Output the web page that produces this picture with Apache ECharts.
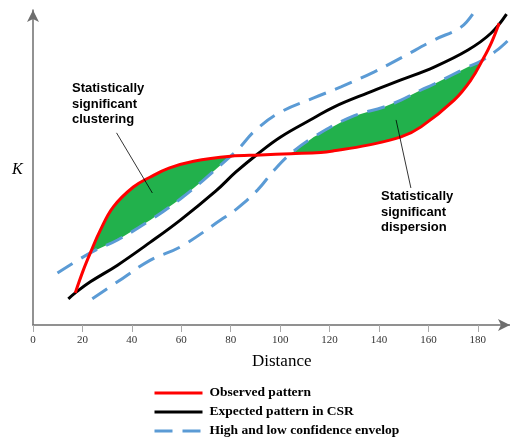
<!DOCTYPE html>
<html>
<head>
<meta charset="utf-8">
<script src="https://cdn.jsdelivr.net/npm/echarts@6/dist/echarts.min.js"></script>
<style>
  html, body { margin: 0; padding: 0; background: #fff; }
  #chart { width: 510px; height: 440px; }
</style>
</head>
<body>
<div id="chart"></div>
<script>
// tick labels on the distance axis
const xTicks = [0, 20, 40, 60, 80, 100, 120, 140, 160, 180];

// [distance, K] (K in arbitrary units 0..100)
const observed = [
  [17.1, 10.2], [20.4, 17.5], [23.2, 22.9], [27.3, 30.2], [32.5, 37.5], [40.6, 43.8],
  [47.5, 47.0], [55.0, 49.8], [65.0, 52.0], [80.0, 53.6], [92.0, 54.0], [104.3, 54.4],
  [116.4, 54.8], [121.7, 55.3], [135.5, 57.1], [148.9, 59.7], [157.0, 62.9],
  [170.4, 71.4], [177.2, 77.8], [181.8, 84.0], [185.4, 89.5], [188.6, 95.8]
];
const expected = [
  [14.3, 8.3], [17.1, 10.2], [23.2, 13.7], [34.2, 19.0], [47.5, 26.3], [59.6, 33.3],
  [73.9, 42.5], [82.0, 48.5], [90.9, 54.3], [100.2, 59.7], [113.6, 65.7], [121.7, 69.2],
  [135.5, 73.7], [148.9, 77.8], [162.3, 81.9], [176.0, 87.3], [185.4, 92.7], [191.6, 98.7]
];
const envHigh = [
  [9.9, 16.5], [23.2, 22.9], [34.2, 27.0], [47.5, 33.3], [59.6, 40.0], [69.0, 46.0],
  [80.0, 53.6], [82.8, 55.6], [90.1, 61.9], [100.2, 67.6], [113.6, 72.1], [124.6, 75.6],
  [137.9, 80.3], [148.9, 84.8], [162.3, 90.5], [173.2, 94.6], [178.5, 99.4]
];
const envLow = [
  [24.0, 8.3], [34.2, 13.7], [47.5, 20.6], [59.6, 24.8], [75.9, 33.3], [82.8, 37.1],
  [90.9, 42.9], [97.4, 49.0], [104.3, 54.4], [113.6, 59.7], [128.6, 66.0], [142.0, 69.2],
  [148.9, 71.4], [157.0, 74.6], [162.3, 76.5], [176.0, 81.9], [181.8, 84.0], [189.4, 88.3],
  [193.5, 91.4]
];

// where the observed curve leaves the envelope
const clusterRange = [23.2, 80.0];
const dispersionRange = [104.3, 181.8];

// leader lines of the two notes, [from, to] in data units
const leaders = [
  [[33.8, 61.0], [48.3, 41.9]],
  [[146.9, 65.1], [152.9, 43.5]]
];

const GREEN = '#22b14c';
const BLUE = '#5b9bd5';

function region(top, bottom, range) {
  const inside = p => p[0] >= range[0] - 1e-6 && p[0] <= range[1] + 1e-6;
  return top.filter(inside).concat(bottom.filter(inside).reverse());
}
const clusterArea = region(observed, envHigh, clusterRange);
const dispersionArea = region(envLow, observed, dispersionRange);

const chart = echarts.init(document.getElementById('chart'));

const noteFont = 'bold 13px "Liberation Sans", Arial, sans-serif';

const option = {
  animation: false,
  grid: { left: 33, right: 0, top: 10, bottom: 115 },
  xAxis: {
    type: 'value',
    min: 0,
    max: 193,
    interval: 20,
    splitLine: { show: false },
    axisLine: {
      show: true,
      symbol: ['none', 'arrow'],
      symbolSize: [9, 12],
      lineStyle: { color: '#6e6e6e', width: 1.5 }
    },
    axisTick: { show: true, length: 7, customValues: xTicks, lineStyle: { color: '#aaa' } },
    axisLabel: {
      customValues: xTicks,
      margin: 10,
      color: '#333',
      fontFamily: '"Liberation Serif", "Times New Roman", serif',
      fontSize: 11
    }
  },
  yAxis: {
    type: 'value',
    min: 0,
    max: 100,
    splitLine: { show: false },
    axisLine: {
      show: true,
      symbol: ['none', 'arrow'],
      symbolSize: [9, 12],
      lineStyle: { color: '#6e6e6e', width: 1.5 }
    },
    axisTick: { show: false },
    axisLabel: { show: false }
  },
  legend: {
    data: ['Observed pattern', 'Expected pattern in CSR', 'High and low confidence envelop'],
    orient: 'vertical',
    left: 153,
    top: 386,
    padding: 0,
    itemWidth: 48,
    itemHeight: 14,
    itemGap: 5,
    selectedMode: false,
    itemStyle: { opacity: 0 },
    lineStyle: { width: 3 },
    textStyle: {
      fontFamily: '"Liberation Serif", "Times New Roman", serif',
      fontWeight: 'bold',
      fontSize: 13.5,
      lineHeight: 14,
      color: '#000',
      padding: [0, 0, 0, 2]
    }
  },
  graphic: [
    { type: 'text', left: 72, top: 81, style: { text: 'Statistically\nsignificant\nclustering', font: noteFont, lineHeight: 15.5, fill: '#000' } },
    { type: 'text', left: 381, top: 189, style: { text: 'Statistically\nsignificant\ndispersion', font: noteFont, lineHeight: 15.5, fill: '#000' } },
    { type: 'text', left: 12, top: 162, style: { text: 'K', font: 'italic 16px "Liberation Serif", serif', fill: '#000' } },
    { type: 'text', left: 252, top: 353, style: { text: 'Distance', font: '17px "Liberation Serif", serif', fill: '#000' } }
  ],
  series: [
    {
      type: 'custom',
      name: 'fill',
      silent: true,
      z: 1,
      data: [[0, 0]],
      renderItem: (params, api) => ({
        type: 'group',
        children: [clusterArea, dispersionArea].map(pts => ({
          type: 'polygon',
          shape: { points: pts.map(p => api.coord(p)) },
          style: { fill: GREEN }
        }))
      })
    },
    {
      type: 'line',
      name: 'High and low confidence envelop',
      data: envHigh,
      smooth: 0.4,
      symbol: 'none',
      z: 2,
      lineStyle: { color: BLUE, width: 3, type: [18, 10] },
      itemStyle: { color: BLUE }
    },
    {
      type: 'line',
      name: 'High and low confidence envelop',
      data: envLow,
      smooth: 0.4,
      symbol: 'none',
      z: 2,
      lineStyle: { color: BLUE, width: 3, type: [18, 10] },
      itemStyle: { color: BLUE }
    },
    {
      type: 'line',
      name: 'Expected pattern in CSR',
      data: expected,
      smooth: 0.4,
      symbol: 'none',
      z: 3,
      lineStyle: { color: '#000', width: 3 },
      itemStyle: { color: '#000' },
      markLine: {
        silent: true,
        symbol: 'none',
        label: { show: false },
        lineStyle: { color: '#000', width: 0.8, type: 'solid' },
        data: leaders.map(l => [{ coord: l[0] }, { coord: l[1] }])
      }
    },
    {
      type: 'line',
      name: 'Observed pattern',
      data: observed,
      smooth: 0.4,
      symbol: 'none',
      z: 4,
      lineStyle: { color: '#ff0000', width: 3 },
      itemStyle: { color: '#ff0000' }
    }
  ]
};

chart.setOption(option);
window.addEventListener('resize', () => chart.resize());
</script>
</body>
</html>
